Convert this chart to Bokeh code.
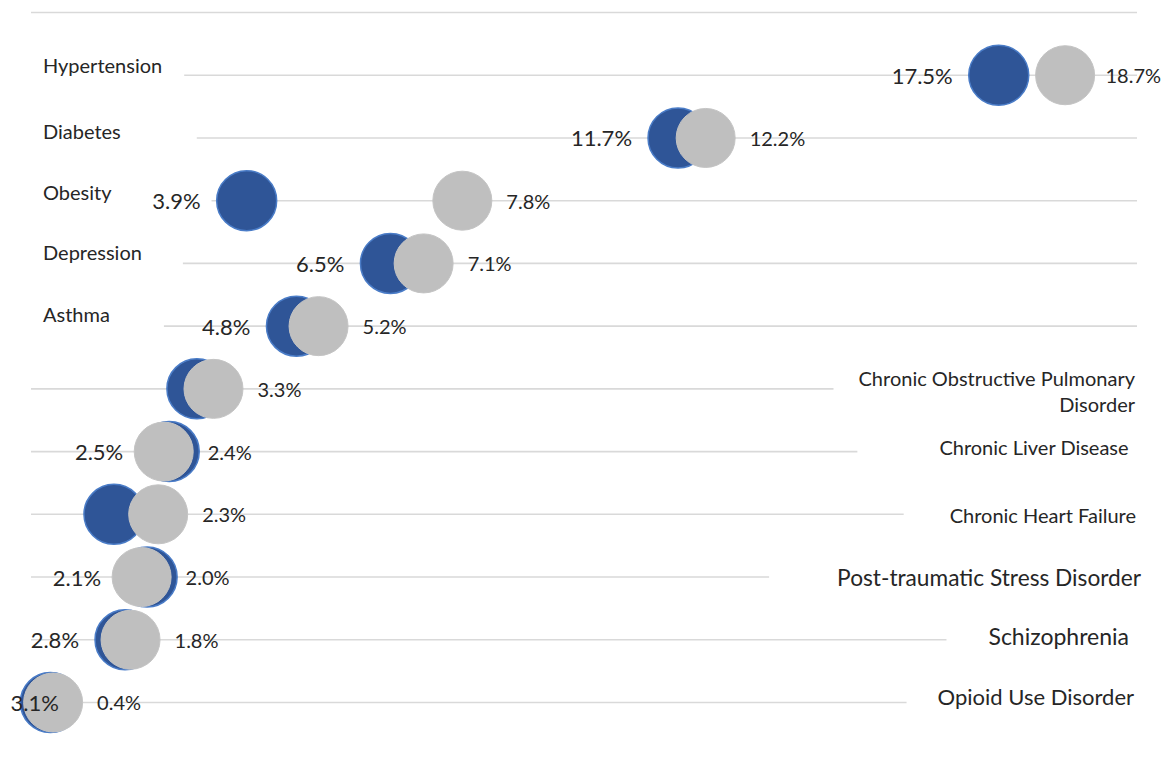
from bokeh.plotting import figure
from bokeh.models import ColumnDataSource, Range1d, Label
from bokeh.core.properties import value, field
from bokeh.embed import file_html
from bokeh.resources import INLINE

# ---------------- data ----------------
conditions = [
    "Hypertension", "Diabetes", "Obesity", "Depression", "Asthma",
    "Chronic Obstructive Pulmonary\nDisorder", "Chronic Liver Disease",
    "Chronic Heart Failure", "Post-traumatic Stress Disorder",
    "Schizophrenia", "Opioid Use Disorder",
]
# blue series (position) and its printed data labels
blue_values = [17.5, 11.7, 3.9, 6.5, 4.8, 3.0, 2.5, 1.5, 2.1, 1.7, 0.35]
blue_labels = ["17.5%", "11.7%", "3.9%", "6.5%", "4.8%", "", "2.5%", "", "2.1%", "2.8%", "3.1%"]
# grey series
grey_values = [18.7, 12.2, 7.8, 7.1, 5.2, 3.3, 2.4, 2.3, 2.0, 1.8, 0.4]
grey_labels = ["18.7%", "12.2%", "7.8%", "7.1%", "5.2%", "3.3%", "2.4%", "2.3%", "2.0%", "1.8%", "0.4%"]
axis_min, axis_max = 0, 20

# ---------------- layout ----------------
W, H = 1162, 750
XR = (-0.5515, (W - 30.5) / 55.3)
YR = (0.2347, 12.1913)
n = len(conditions)
rows = list(range(n, 0, -1))          # category slots, top = n
grid_rows = list(range(1, n + 2))      # one extra line above the first row

FONT = "Lato"
TXT = "#262626"

p = figure(width=W, height=H, x_range=Range1d(*XR), y_range=Range1d(*YR),
           output_backend="svg", toolbar_location=None, min_border=0,
           x_axis_location=None, y_axis_location=None)
p.grid.visible = False
p.outline_line_color = None
p.background_fill_color = "white"

# row lines
p.segment(x0=[axis_min] * len(grid_rows), x1=[axis_max] * len(grid_rows),
          y0=grid_rows, y1=grid_rows, line_color="#d9d9d9", line_width=1.6,
          level="image")

# dots
p.scatter(x=blue_values, y=rows, size=60, fill_color="#2f5597",
          line_color="#4a7cc7", line_width=1.5)
p.scatter(x=grey_values, y=rows, size=59, fill_color="#bfbfbf",
          line_color="#c4c4c4", line_width=1)

def to_px(v):
    return (v - XR[0]) / (XR[1] - XR[0]) * W

# grey value labels (right of dot, kept inside the plot)
goff = [min(44, W - 4 - 10.6 * len(t) - to_px(v)) for v, t in zip(grey_values, grey_labels)]
gsrc = ColumnDataSource(dict(x=grey_values, y=rows, text=grey_labels, xoff=goff))
p.text(x="x", y="y", text="text", x_offset=field("xoff"), source=gsrc,
       text_align="left", text_baseline="middle", text_font=value(FONT),
       text_font_size="20px", text_color=TXT)

# blue value labels (left of dot, pushed inside the plot if needed)
bx, balign, boff = [], [], []
for v, t in zip(blue_values, blue_labels):
    if to_px(v) - 46 - 50 < 0:
        bx.append(XR[0]); balign.append("left"); boff.append(10)
    else:
        bx.append(v); balign.append("right"); boff.append(-46)
bsrc = ColumnDataSource(dict(x=bx, y=rows, text=blue_labels, align=balign, xoff=boff))
p.text(x="x", y="y", text="text", x_offset=field("xoff"), text_align=field("align"),
       source=bsrc, text_baseline="middle", text_font=value(FONT),
       text_font_size="22px", text_color=TXT)

# category labels: first five on the left, the rest on the right
left_yoff = [8, 5, 7, 9, 10]
left_rpad = [22, 76, 100, 41, 54]
LPAD_L = 14
right_yoff = [-2, 5, -1, 0, 4, 6]
right_xoff = [-2, -8, -1, 4, -8, -3]
right_lpad = [25, 82, 46, 68, 42, 31]
RPAD_R = 30
right_size = ["20px", "20px", "20px", "22.7px", "23px", "22px"]

for i in range(5):
    p.add_layout(Label(x=axis_min, y=rows[i], x_offset=12 - LPAD_L, y_offset=left_yoff[i],
                       text=conditions[i], text_align="left", text_baseline="middle",
                       text_font=FONT, text_font_size="20px", text_color=TXT,
                       background_fill_color="white",
                       padding=dict(left=LPAD_L, right=left_rpad[i], top=2, bottom=6),
                       level="underlay"))
for j, i in enumerate(range(5, n)):
    p.add_layout(Label(x=axis_max, y=rows[i], x_offset=right_xoff[j] + RPAD_R,
                       y_offset=right_yoff[j],
                       text=conditions[i], text_align="right", text_baseline="middle",
                       text_font=FONT, text_font_size=right_size[j], text_color=TXT,
                       text_line_height=1.08,
                       background_fill_color="white",
                       padding=dict(left=right_lpad[j], right=RPAD_R, top=4, bottom=4),
                       level="underlay"))

open("out.html", "w").write(file_html(p, INLINE))
